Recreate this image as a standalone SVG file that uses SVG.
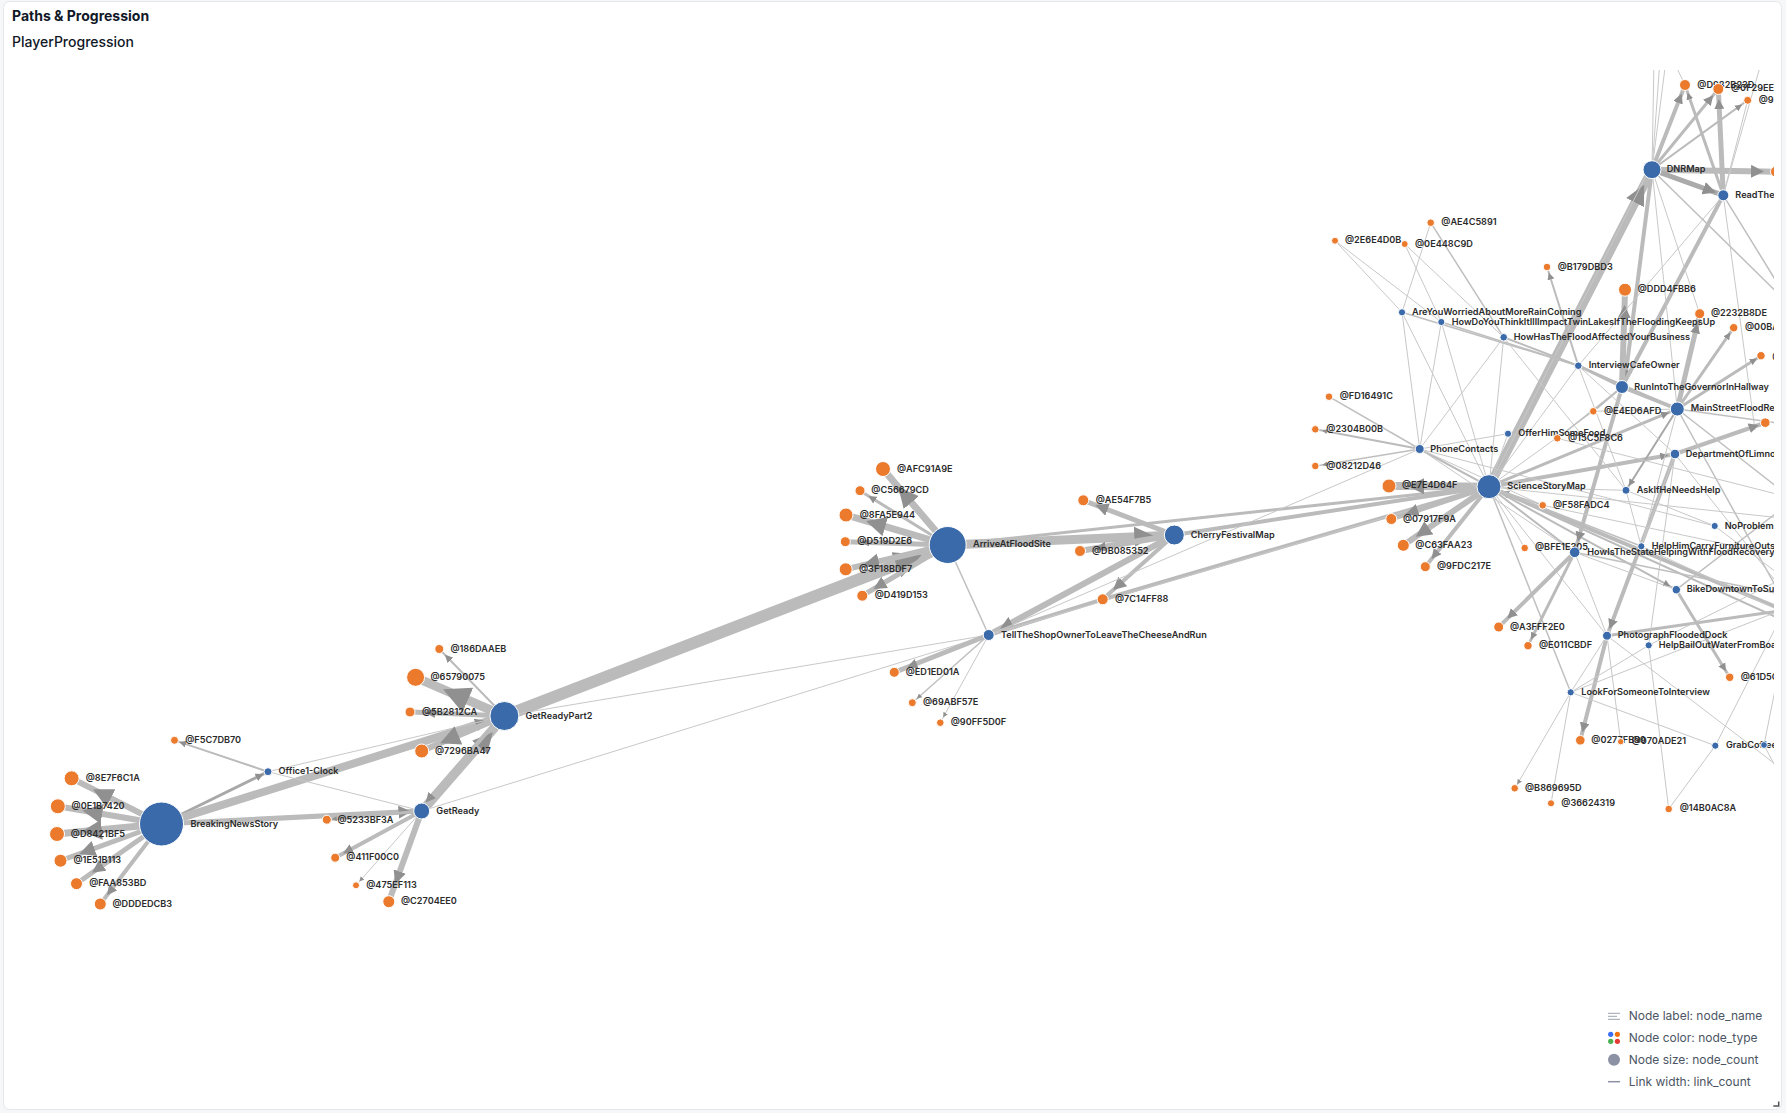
<svg xmlns="http://www.w3.org/2000/svg" width="1786" height="1113" viewBox="0 0 1786 1113">
<style>
text{font-family:Inter,"Liberation Sans",sans-serif}
.t1{font-size:14px;font-weight:700;fill:#111827}
.t2{font-size:14px;font-weight:500;fill:#111827}
.lg{font-size:12px;fill:#4b5563}
.n text{font-size:9.15px;font-weight:600;fill:#2b2b2b}
.b{fill:#3a6aa9;stroke:#fff;stroke-width:1}
.o{fill:#ec7a2c;stroke:#fff;stroke-width:1}
polyline{fill:none;stroke:#bbb}
.e1{stroke-width:1;stroke:#c8c8c8}.e15{stroke-width:1.5;stroke:#bfbfbf}.e2{stroke-width:2}.e3{stroke-width:3}.e4{stroke-width:4}.e5{stroke-width:5}.e6{stroke-width:6}.e7{stroke-width:7}.e8{stroke-width:8}.e9{stroke-width:9}.e12{stroke-width:12}
.m5{marker-mid:url(#a5)}.m6{marker-mid:url(#a6)}.m8{marker-mid:url(#a8)}.m10{marker-mid:url(#a10)}.m13{marker-mid:url(#a13)}.m16{marker-mid:url(#a16)}.m20{marker-mid:url(#a20)}.m26{marker-mid:url(#a26)}
.ar{fill:#909090}
</style>
<defs>
<clipPath id="c"><rect x="0" y="70" width="1774" height="1040"/></clipPath>
<marker id="a5" viewBox="0 0 10 10" refX="10" refY="5" markerUnits="userSpaceOnUse" markerWidth="5" markerHeight="5" orient="auto"><path class="ar" d="M0 0L10 5L0 10z"/></marker>
<marker id="a6" viewBox="0 0 10 10" refX="10" refY="5" markerUnits="userSpaceOnUse" markerWidth="7" markerHeight="7" orient="auto"><path class="ar" d="M0 0L10 5L0 10z"/></marker>
<marker id="a8" viewBox="0 0 10 10" refX="10" refY="5" markerUnits="userSpaceOnUse" markerWidth="8" markerHeight="8" orient="auto"><path class="ar" d="M0 0L10 5L0 10z"/></marker>
<marker id="a10" viewBox="0 0 10 10" refX="10" refY="5" markerUnits="userSpaceOnUse" markerWidth="10" markerHeight="10" orient="auto"><path class="ar" d="M0 0L10 5L0 10z"/></marker>
<marker id="a13" viewBox="0 0 10 10" refX="10" refY="5" markerUnits="userSpaceOnUse" markerWidth="13" markerHeight="13" orient="auto"><path class="ar" d="M0 0L10 5L0 10z"/></marker>
<marker id="a16" viewBox="0 0 10 10" refX="10" refY="5" markerUnits="userSpaceOnUse" markerWidth="16" markerHeight="16" orient="auto"><path class="ar" d="M0 0L10 5L0 10z"/></marker>
<marker id="a20" viewBox="0 0 10 10" refX="10" refY="5" markerUnits="userSpaceOnUse" markerWidth="20" markerHeight="20" orient="auto"><path class="ar" d="M0 0L10 5L0 10z"/></marker>
<marker id="a26" viewBox="0 0 10 10" refX="10" refY="5" markerUnits="userSpaceOnUse" markerWidth="27" markerHeight="27" orient="auto"><path class="ar" d="M0 0L10 5L0 10z"/></marker>
</defs>
<rect width="1786" height="1113" fill="#f6f7f9"/>
<rect x="3.5" y="1.5" width="1778" height="1108" rx="6" fill="#fff" stroke="#e5e7eb"/>
<text class="t1" x="12" y="21">Paths &amp; Progression</text>
<text class="t2" x="12" y="47">PlayerProgression</text>
<g id="graph" clip-path="url(#c)">
<g id="connectors">
<polyline class="e6 m20" points="161.5,824 93,789.2 71.6,778.3"/>
<polyline class="e6 m20" points="161.5,824 82.5,810.5 57.8,806.3"/>
<polyline class="e7 m20" points="161.5,824 81.9,831.6 57,834"/>
<polyline class="e5 m16" points="161.5,824 79.3,853.9 60.5,860.7"/>
<polyline class="e5 m13" points="161.5,824 92,872.8 76.5,883.7"/>
<polyline class="e4 m10" points="161.5,824 107,895.3 100.3,904"/>
<polyline class="e3 m8" points="161.5,824 263.5,773.9 268,771.7" style="stroke:#a8a8a8"/>
<polyline class="e8 m13" points="161.5,824 488.2,721.1 504.4,716"/>
<polyline class="e5 m13" points="161.5,824 411.4,811.5 421.7,811"/>
<polyline class="e3 m5" points="421.7,811 331.8,819.2 326.8,819.7"/>
<polyline class="e2 m6" points="268,771.7 179.2,741.9 174.5,740.3"/>
<polyline class="e1" points="268,771.7 504.4,716"/>
<polyline class="e1" points="268,771.7 421.7,811"/>
<polyline class="e6 m20" points="423.2,812.3 492.8,732.3 505.9,717.3"/>
<polyline class="e4 m10" points="502.5,714.4 425.7,802.6 419.8,809.4"/>
<polyline class="e4 m10" points="421.7,811 343.1,853.4 335.2,857.7"/>
<polyline class="e1 m5" points="421.7,811 359.3,881.6 356,885.3"/>
<polyline class="e6 m13" points="421.7,811 395.3,883.8 388.8,901.7"/>
<polyline class="e2 m8" points="504.4,716 444.9,654.7 439.3,649"/>
<polyline class="e9 m26" points="504.4,716 443.1,689.3 415.6,677.3"/>
<polyline class="e5 m10" points="504.4,716 425,712.6 410,712"/>
<polyline class="e6 m20" points="504.4,716 440.1,743.2 421.7,751"/>
<polyline class="e12 m26" points="504.4,716 921.6,555.1 947.7,545"/>
<polyline class="e1" points="504.4,716 988.7,635"/>
<polyline class="e1" points="421.7,811 988.7,635"/>
<polyline class="e7 m20" points="947.7,545 898.4,487.3 883,469"/>
<polyline class="e3 m8" points="947.7,545 868.5,496 860,490.7"/>
<polyline class="e7 m20" points="947.7,545 866.1,520.9 846,515"/>
<polyline class="e5 m8" points="947.7,545 861.3,542.2 845.3,541.7"/>
<polyline class="e6 m16" points="947.7,545 863.2,565.1 845.7,569.3"/>
<polyline class="e5 m13" points="947.7,545 873.5,589 862.3,595.7"/>
<polyline class="e15" points="947.7,545 988.7,635"/>
<polyline class="e9 m20" points="947.7,545 1154.3,535.9 1174.3,535"/>
<polyline class="e3" points="947.7,545 1489,486.7"/>
<polyline class="e6 m10" points="1174.3,535 1095.8,548.3 1080,551"/>
<polyline class="e5 m13" points="1174.3,535 1095.4,505 1083.3,500.3"/>
<polyline class="e4 m13" points="1174.3,535 1113.1,590 1102.7,599.3"/>
<polyline class="e6 m13" points="1174.3,535 1000.1,628.8 988.7,635"/>
<polyline class="e4" points="1102.7,599.3 988.7,635"/>
<polyline class="e4" points="1489,486.7 1102.7,599.3"/>
<polyline class="e4" points="1174.3,535 1489,486.7"/>
<polyline class="e1" points="988.7,635 1419.7,449"/>
<polyline class="e1" points="988.7,635 1489,486.7"/>
<polyline class="e5 m10" points="988.7,635 907.3,667.2 894.3,672.3"/>
<polyline class="e15 m5" points="988.7,635 916.8,698.7 912.3,702.7"/>
<polyline class="e1 m5" points="988.7,635 943.2,717.4 940.3,722.7"/>
<polyline class="e8 m16" points="1489,486.7 1408,486.1 1389,486"/>
<polyline class="e5 m13" points="1489,486.7 1405.5,514.3 1391.3,519"/>
<polyline class="e6 m16" points="1489,486.7 1415.7,536.8 1403.3,545.3"/>
<polyline class="e4 m10" points="1489,486.7 1431.5,558.9 1425.3,566.7"/>
<polyline class="e9 m20" points="1489,486.7 1644.2,184.8 1652,169.7"/>
<polyline class="e1" points="1489,486.7 1649,170"/>
<polyline class="e4 m8" points="1489,486.7 1668.1,455.2 1675,454"/>
<polyline class="e3 m8" points="1489,486.7 1669,412.4 1677.3,409"/>
<polyline class="e4 m8" points="1800,617 1501,491.7 1489,486.7"/>
<polyline class="e2" points="1489,486.7 1800,628"/>
<polyline class="e2 m6" points="1489,486.7 1670.2,586.3 1676.3,589.7"/>
<polyline class="e15" points="1489,486.7 1542.7,505.3"/>
<polyline class="e1" points="1489,486.7 1626,490.3"/>
<polyline class="e1" points="1489,486.7 1578.3,365.7"/>
<polyline class="e1" points="1489,486.7 1508,433.7"/>
<polyline class="e1" points="1489,486.7 1524.7,548"/>
<polyline class="e2" points="1489,486.7 1574.7,552.3"/>
<polyline class="e15" points="1489,486.7 1641.3,546.3"/>
<polyline class="e15" points="1489,486.7 1570.7,692.3"/>
<polyline class="e1" points="1489,486.7 1607,635.7"/>
<polyline class="e1" points="1489,486.7 1593.3,411.3"/>
<polyline class="e1" points="1489,486.7 1800,520"/>
<polyline class="e2" points="1489,486.7 1419.7,449"/>
<polyline class="e1" points="1489,486.7 1402,312.3"/>
<polyline class="e1" points="1489,486.7 1441.3,322"/>
<polyline class="e1" points="1489,486.7 1503.7,337.3"/>
<polyline class="e4 m10" points="1574.7,552.3 1507.3,618.6 1498.7,627"/>
<polyline class="e3 m6" points="1574.7,552.3 1531.1,639.4 1528,645.7"/>
<polyline class="e15" points="1419.7,449 1329,396.7"/>
<polyline class="e2 m5" points="1419.7,449 1322,430.6 1315.3,429.3"/>
<polyline class="e15 m5" points="1419.7,449 1322.2,464.9 1315.3,466"/>
<polyline class="e1" points="1419.7,449 1508,433.7"/>
<polyline class="e1" points="1419.7,449 1714.7,526"/>
<polyline class="e1" points="1419.7,449 1402,312.3"/>
<polyline class="e1" points="1419.7,449 1441.3,322"/>
<polyline class="e1" points="1419.7,449 1503.7,337.3"/>
<polyline class="e1" points="1419.7,449 1574.7,552.3"/>
<polyline class="e4 m10" points="1652,169.7 1681.7,93.4 1685,85"/>
<polyline class="e3 m10" points="1652,169.7 1713.2,95.2 1718.3,89"/>
<polyline class="e2 m6" points="1652,169.7 1742,104.4 1747.7,100.3"/>
<polyline class="e5 m10" points="1723.3,195.3 1718.8,99 1718.3,89"/>
<polyline class="e3 m6" points="1723.3,195.3 1687.6,92.6 1685,85"/>
<polyline class="e6 m13" points="1652,169.7 1764,171.5 1776,171.7"/>
<polyline class="e5 m13" points="1652,169.7 1715.8,192.6 1723.3,195.3" style="stroke:#aaa"/>
<polyline class="e1" points="1652,169.7 1654,60"/>
<polyline class="e1" points="1652,169.7 1660,60"/>
<polyline class="e1" points="1652,169.7 1666,60"/>
<polyline class="e1" points="1673,60 1685,85"/>
<polyline class="e1" points="1723.3,195.3 1762,60"/>
<polyline class="e1" points="1723.3,195.3 1747.7,100.3"/>
<polyline class="e4 m10" points="1652,169.7 1625,380 1622,387"/>
<polyline class="e6 m13" points="1622,387 1624.6,305 1625,289.7"/>
<polyline class="e4 m10" points="1622,387 1577.7,541.7 1574.7,552.3"/>
<polyline class="e4" points="1723.3,195.3 1622,387"/>
<polyline class="e1" points="1723.3,195.3 1578.3,365.7"/>
<polyline class="e15" points="1723.3,195.3 1800,320"/>
<polyline class="e1" points="1723.3,195.3 1755,430"/>
<polyline class="e1" points="1652,169.7 1699.7,313.7"/>
<polyline class="e15" points="1652,169.7 1800,315"/>
<polyline class="e1" points="1652,169.7 1677.3,409"/>
<polyline class="e4 m10" points="1675,454 1609.5,629.1 1607,635.7"/>
<polyline class="e4 m10" points="1607,635.7 1582.3,732.5 1580.3,740.3"/>
<polyline class="e1" points="1607,635.7 1620.7,741.7"/>
<polyline class="e3" points="1607,635.7 1800,608"/>
<polyline class="e1" points="1607,635.7 1570.7,692.3"/>
<polyline class="e1" points="1570.7,692.3 1800,603"/>
<polyline class="e1" points="1570.7,692.3 1648.7,645.3"/>
<polyline class="e1 m5" points="1570.7,692.3 1517.2,784.4 1514.7,788.3"/>
<polyline class="e1" points="1570.7,692.3 1551,803.3"/>
<polyline class="e1" points="1570.7,692.3 1715.3,745.7"/>
<polyline class="e1" points="1648.7,645.3 1668.7,809"/>
<polyline class="e1" points="1648.7,645.3 1675,454"/>
<polyline class="e1" points="1648.7,645.3 1800,570"/>
<polyline class="e1" points="1715.3,745.7 1668.7,809"/>
<polyline class="e1" points="1715.3,745.7 1800,580"/>
<polyline class="e1" points="1607,635.7 1800,783"/>
<polyline class="e1" points="1764,745 1780,665"/>
<polyline class="e1" points="1764,745 1785,785"/>
<polyline class="e3 m8" points="1676.3,589.7 1726,671.3 1729.7,677.3"/>
<polyline class="e4 m10" points="1675,454 1758.7,425 1765.3,422.7"/>
<polyline class="e3 m6" points="1677.3,409 1756.8,358.4 1761,355.7"/>
<polyline class="e3 m6" points="1677.3,409 1730.3,332.6 1733.7,327.7"/>
<polyline class="e5 m10" points="1677.3,409 1697.4,323.4 1699.7,313.7"/>
<polyline class="e2 m6" points="1677.3,409 1628.7,486 1626,490.3" style="stroke:#a8a8a8"/>
<polyline class="e4" points="1622,387 1677.3,409"/>
<polyline class="e2 m6" points="1578.3,365.7 1548.8,272.7 1547,267"/>
<polyline class="e3" points="1578.3,365.7 1622,387"/>
<polyline class="e2" points="1578.3,365.7 1677.3,409"/>
<polyline class="e1" points="1578.3,365.7 1626,490.3"/>
<polyline class="e1" points="1578.3,365.7 1675,454"/>
<polyline class="e1" points="1430.7,222.7 1402,312.3"/>
<polyline class="e15" points="1430.7,222.7 1503.7,337.3"/>
<polyline class="e1" points="1335,240.7 1402,312.3"/>
<polyline class="e1" points="1335,240.7 1441.3,322"/>
<polyline class="e1" points="1404.7,244 1441.3,322"/>
<polyline class="e1" points="1404.7,244 1503.7,337.3"/>
<polyline class="e15" points="1402,312.3 1578.3,365.7"/>
<polyline class="e15" points="1441.3,322 1578.3,365.7"/>
<polyline class="e2" points="1503.7,337.3 1578.3,365.7"/>
<polyline class="e1" points="1503.7,337.3 1626,490.3"/>
<polyline class="e2" points="1622,387 1593.3,411.3"/>
<polyline class="e1" points="1677.3,409 1593.3,411.3"/>
<polyline class="e15" points="1622,387 1557.3,438.3"/>
<polyline class="e15" points="1677.3,409 1800,426"/>
<polyline class="e15" points="1677.3,409 1800,505"/>
<polyline class="e15" points="1677.3,409 1800,630"/>
<polyline class="e1" points="1677.3,409 1641.3,546.3"/>
<polyline class="e1" points="1675,454 1800,612"/>
<polyline class="e1" points="1675,454 1641.3,546.3"/>
<polyline class="e1" points="1626,490.3 1714.7,526"/>
<polyline class="e1" points="1626,490.3 1641.3,546.3"/>
<polyline class="e1" points="1714.7,526 1800,590"/>
<polyline class="e1" points="1574.7,552.3 1676.3,589.7"/>
<polyline class="e15" points="1574.7,552.3 1800,598"/>
<polyline class="e1" points="1574.7,552.3 1607,635.7"/>
<polyline class="e15" points="1676.3,589.7 1800,495"/>
<polyline class="e1" points="1641.3,546.3 1800,620"/>
<polyline class="e1" points="1557.3,438.3 1800,500"/>
<polyline class="e1" points="1419.7,449 1542.7,505.3"/>
<polyline class="e1" points="1542.7,505.3 1800,560"/>
</g>
<g id="nodes" class="n">
<g id="n1"><circle class="b" cx="161.5" cy="824" r="22"/><text x="190.6" y="827.3">BreakingNewsStory</text></g>
<g id="n2"><circle class="o" cx="71.6" cy="778.3" r="7.5"/><text x="85.7" y="781">@8E7F6C1A</text></g>
<g id="n3"><circle class="o" cx="57.8" cy="806.3" r="7.5"/><text x="71.6" y="809.3">@0E1B7420</text></g>
<g id="n4"><circle class="o" cx="57" cy="834" r="7.5"/><text x="70.8" y="837">@D8421BF5</text></g>
<g id="n5"><circle class="o" cx="60.5" cy="860.7" r="6.5"/><text x="73.5" y="863">@1E51B113</text></g>
<g id="n6"><circle class="o" cx="76.5" cy="883.7" r="6"/><text x="89.2" y="886">@FAA853BD</text></g>
<g id="n7"><circle class="o" cx="100.3" cy="904" r="6"/><text x="112.5" y="907">@DDDEDCB3</text></g>
<g id="n8"><circle class="o" cx="174.5" cy="740.3" r="4"/><text x="185.2" y="743">@F5C7DB70</text></g>
<g id="n9"><circle class="b" cx="268" cy="771.7" r="4"/><text x="278.6" y="774">Office1-Clock</text></g>
<g id="n10"><circle class="o" cx="326.8" cy="819.7" r="4.5"/><text x="337.5" y="823">@5233BF3A</text></g>
<g id="n11"><circle class="b" cx="421.7" cy="811" r="8"/><text x="436.3" y="814">GetReady</text></g>
<g id="n12"><circle class="o" cx="335.2" cy="857.7" r="4.5"/><text x="346.3" y="860">@411F00C0</text></g>
<g id="n13"><circle class="o" cx="356" cy="885.3" r="3.5"/><text x="366.2" y="888">@475EF113</text></g>
<g id="n14"><circle class="o" cx="388.8" cy="901.7" r="6"/><text x="401" y="904">@C2704EE0</text></g>
<g id="n15"><circle class="o" cx="439.3" cy="649" r="4.5"/><text x="450.4" y="652">@186DAAEB</text></g>
<g id="n16"><circle class="o" cx="415.6" cy="677.3" r="9"/><text x="430.5" y="680">@65790075</text></g>
<g id="n17"><circle class="o" cx="410" cy="712" r="5"/><text x="422" y="715">@5B2812CA</text></g>
<g id="n18"><circle class="o" cx="421.7" cy="751" r="7"/><text x="435" y="754">@7296BA47</text></g>
<g id="n19"><circle class="b" cx="504.4" cy="716" r="14.5"/><text x="525.4" y="719">GetReadyPart2</text></g>
<g id="n20"><circle class="b" cx="947.7" cy="545" r="18.5"/><text x="973" y="547">ArriveAtFloodSite</text></g>
<g id="n21"><circle class="o" cx="883" cy="469" r="7.5"/><text x="897" y="472">@AFC91A9E</text></g>
<g id="n22"><circle class="o" cx="860" cy="490.7" r="5"/><text x="871.3" y="493">@C56679CD</text></g>
<g id="n23"><circle class="o" cx="846" cy="515" r="7"/><text x="859.7" y="517.6">@8FA5E944</text></g>
<g id="n24"><circle class="o" cx="845.3" cy="541.7" r="5"/><text x="857.3" y="544">@D519D2E6</text></g>
<g id="n25"><circle class="o" cx="845.7" cy="569.3" r="6.5"/><text x="859" y="571.6">@3F18BDF7</text></g>
<g id="n26"><circle class="o" cx="862.3" cy="595.7" r="5.5"/><text x="874.7" y="597.6">@D419D153</text></g>
<g id="n27"><circle class="o" cx="1083.3" cy="500.3" r="5.5"/><text x="1095.7" y="503">@AE54F7B5</text></g>
<g id="n28"><circle class="o" cx="1080" cy="551" r="5.5"/><text x="1092" y="554">@DB085352</text></g>
<g id="n29"><circle class="b" cx="1174.3" cy="535" r="10"/><text x="1190.7" y="538">CherryFestivalMap</text></g>
<g id="n30"><circle class="o" cx="1102.7" cy="599.3" r="5.5"/><text x="1115" y="602">@7C14FF88</text></g>
<g id="n31"><circle class="b" cx="988.7" cy="635" r="5.5"/><text x="1001" y="638">TellTheShopOwnerToLeaveTheCheeseAndRun</text></g>
<g id="n32"><circle class="o" cx="894.3" cy="672.3" r="5"/><text x="905.7" y="675">@ED1ED01A</text></g>
<g id="n33"><circle class="o" cx="912.3" cy="702.7" r="4"/><text x="923" y="705">@69ABF57E</text></g>
<g id="n34"><circle class="o" cx="940.3" cy="722.7" r="3.8"/><text x="950.7" y="725">@90FF5D0F</text></g>
<g id="n35"><circle class="b" cx="1489" cy="486.7" r="12"/><text x="1507.3" y="489">ScienceStoryMap</text></g>
<g id="n36"><circle class="o" cx="1389" cy="486" r="7"/><text x="1402" y="487.6">@E7E4D64F</text></g>
<g id="n37"><circle class="o" cx="1391.3" cy="519" r="5.5"/><text x="1403" y="522">@07917F9A</text></g>
<g id="n38"><circle class="o" cx="1403.3" cy="545.3" r="6"/><text x="1415.3" y="548">@C63FAA23</text></g>
<g id="n39"><circle class="o" cx="1425.3" cy="566.7" r="5"/><text x="1437" y="569.3">@9FDC217E</text></g>
<g id="n40"><circle class="b" cx="1419.7" cy="449" r="4.5"/><text x="1430.3" y="452">PhoneContacts</text></g>
<g id="n41"><circle class="o" cx="1329" cy="396.7" r="3.8"/><text x="1339.7" y="399.3">@FD16491C</text></g>
<g id="n42"><circle class="o" cx="1315.3" cy="429.3" r="3.8"/><text x="1326.3" y="432">@2304B00B</text></g>
<g id="n43"><circle class="o" cx="1315.3" cy="466" r="3.8"/><text x="1326.3" y="469">@08212D46</text></g>
<g id="n44"><circle class="b" cx="1402" cy="312.3" r="3.6"/><text x="1412" y="315.3">AreYouWorriedAboutMoreRainComing</text></g>
<g id="n45"><circle class="b" cx="1441.3" cy="322" r="3.6"/><text x="1451.7" y="325.3">HowDoYouThinkItIllImpactTwinLakesIfTheFloodingKeepsUp</text></g>
<g id="n46"><circle class="b" cx="1503.7" cy="337.3" r="3.8"/><text x="1513.7" y="340">HowHasTheFloodAffectedYourBusiness</text></g>
<g id="n47"><circle class="o" cx="1430.7" cy="222.7" r="3.8"/><text x="1441.3" y="225">@AE4C5891</text></g>
<g id="n48"><circle class="o" cx="1335" cy="240.7" r="3.5"/><text x="1345" y="243">@2E6E4D0B</text></g>
<g id="n49"><circle class="o" cx="1404.7" cy="244" r="3.5"/><text x="1415" y="247">@0E448C9D</text></g>
<g id="n50"><circle class="o" cx="1547" cy="267" r="3.8"/><text x="1557.7" y="270">@B179DBD3</text></g>
<g id="n51"><circle class="o" cx="1625" cy="289.7" r="6.5"/><text x="1637.7" y="292">@DDD4FBB6</text></g>
<g id="n52"><circle class="o" cx="1699.7" cy="313.7" r="5"/><text x="1711" y="316">@2232B8DE</text></g>
<g id="n53"><circle class="o" cx="1733.7" cy="327.7" r="4.2"/><text x="1745" y="330">@00BA</text></g>
<g id="n54"><circle class="o" cx="1761" cy="355.7" r="4.2"/><text x="1772.3" y="359">@</text></g>
<g id="n55"><circle class="b" cx="1652" cy="169.7" r="9"/><text x="1666.7" y="172">DNRMap</text></g>
<g id="n56"><circle class="b" cx="1723.3" cy="195.3" r="5.5"/><text x="1735.3" y="198.3">ReadThe</text></g>
<g id="n57"><circle class="o" cx="1685" cy="85" r="5.5"/><text x="1697.3" y="87.6">@D982B23D</text></g>
<g id="n58"><circle class="o" cx="1718.3" cy="89" r="5.5"/><text x="1731" y="91">@0F29EE</text></g>
<g id="n59"><circle class="o" cx="1747.7" cy="100.3" r="4"/><text x="1758.7" y="102.6">@9</text></g>
<g id="n60"><circle class="o" cx="1776" cy="171.7" r="5.5"/></g>
<g id="n61"><circle class="b" cx="1578.3" cy="365.7" r="3.8"/><text x="1588.7" y="368.3">InterviewCafeOwner</text></g>
<g id="n62"><circle class="b" cx="1622" cy="387" r="6.5"/><text x="1634.3" y="390">RunIntoTheGovernorInHallway</text></g>
<g id="n63"><circle class="b" cx="1677.3" cy="409" r="7"/><text x="1690.7" y="411">MainStreetFloodRe</text></g>
<g id="n64"><circle class="o" cx="1593.3" cy="411.3" r="3.8"/><text x="1604" y="414">@E4ED6AFD</text></g>
<g id="n65"><circle class="o" cx="1765.3" cy="422.7" r="4.8"/></g>
<g id="n66"><circle class="b" cx="1508" cy="433.7" r="3.6"/><text x="1518.3" y="436.3">OfferHimSomeFood</text></g>
<g id="n67"><circle class="o" cx="1557.3" cy="438.3" r="3.8"/><text x="1568" y="441">@15C5F8C6</text></g>
<g id="n68"><circle class="b" cx="1675" cy="454" r="4.8"/><text x="1685.7" y="457.3">DepartmentOfLimno</text></g>
<g id="n69"><circle class="b" cx="1626" cy="490.3" r="4"/><text x="1636.7" y="493.3">AskIfHeNeedsHelp</text></g>
<g id="n70"><circle class="o" cx="1542.7" cy="505.3" r="3.8"/><text x="1553" y="508">@F58FADC4</text></g>
<g id="n71"><circle class="b" cx="1714.7" cy="526" r="3.6"/><text x="1724.7" y="529.3">NoProblem</text></g>
<g id="n72"><circle class="o" cx="1524.7" cy="548" r="3.8"/><text x="1535" y="550">@BFE1E305</text></g>
<g id="n73"><circle class="b" cx="1574.7" cy="552.3" r="5.3"/><text x="1587.3" y="555.3">HowIsTheStateHelpingWithFloodRecovery</text></g>
<g id="n74"><circle class="b" cx="1641.3" cy="546.3" r="3.6"/><text x="1651.7" y="549">HelpHimCarryFurnitureOuts</text></g>
<g id="n75"><circle class="b" cx="1676.3" cy="589.7" r="4.2"/><text x="1686.7" y="592">BikeDowntownToSu</text></g>
<g id="n76"><circle class="o" cx="1498.7" cy="627" r="5"/><text x="1510" y="630">@A3FFF2E0</text></g>
<g id="n77"><circle class="o" cx="1528" cy="645.7" r="4.2"/><text x="1539" y="648">@E011CBDF</text></g>
<g id="n78"><circle class="b" cx="1607" cy="635.7" r="4.5"/><text x="1617.7" y="638">PhotographFloodedDock</text></g>
<g id="n79"><circle class="b" cx="1648.7" cy="645.3" r="3.6"/><text x="1658.7" y="648">HelpBailOutWaterFromBoa</text></g>
<g id="n80"><circle class="o" cx="1729.7" cy="677.3" r="4.2"/><text x="1740.7" y="680">@61D5C</text></g>
<g id="n81"><circle class="b" cx="1570.7" cy="692.3" r="3.6"/><text x="1581.3" y="695">LookForSomeoneToInterview</text></g>
<g id="n82"><circle class="o" cx="1580.3" cy="740.3" r="4.8"/><text x="1591.3" y="743">@0277FB99</text></g>
<g id="n83"><circle class="o" cx="1620.7" cy="741.7" r="3.2"/><text x="1631.7" y="744">@070ADE21</text></g>
<g id="n84"><circle class="b" cx="1715.3" cy="745.7" r="3.6"/><text x="1726" y="748.3">GrabCoffee</text></g>
<g id="n85"><circle class="b" cx="1764" cy="745" r="3.4"/></g>
<g id="n86"><circle class="o" cx="1514.7" cy="788.3" r="3.8"/><text x="1525" y="791">@B869695D</text></g>
<g id="n87"><circle class="o" cx="1551" cy="803.3" r="3.6"/><text x="1561.3" y="806">@36624319</text></g>
<g id="n88"><circle class="o" cx="1668.7" cy="809" r="3.8"/><text x="1679.7" y="810.6">@14B0AC8A</text></g>
</g>
</g>
<g id="legend">
<path d="M1608 1013.3h12M1608 1016.3h9M1608 1019.3h12" stroke="#9ca3af" stroke-width="1" fill="none"/>
<text class="lg" x="1628.7" y="1020.2">Node label: node_name</text>
<circle cx="1610.7" cy="1034.3" r="2.6" fill="#3b6ef5"/><circle cx="1617.4" cy="1034.3" r="2.6" fill="#f2700f"/><circle cx="1610.7" cy="1041.3" r="2.6" fill="#4caf50"/><circle cx="1617.4" cy="1041.3" r="2.6" fill="#e53935"/>
<text class="lg" x="1628.7" y="1042">Node color: node_type</text>
<circle cx="1614" cy="1059.7" r="6" fill="#8c92a3"/>
<text class="lg" x="1628.7" y="1064">Node size: node_count</text>
<path d="M1608 1081.7h12" stroke="#8c92a3" stroke-width="1.5"/>
<text class="lg" x="1628.7" y="1086">Link width: link_count</text>
<path d="M1773.3 1106h5.4v-4.5" stroke="#555" stroke-width="1.5" fill="none"/>
</g>
</svg>
